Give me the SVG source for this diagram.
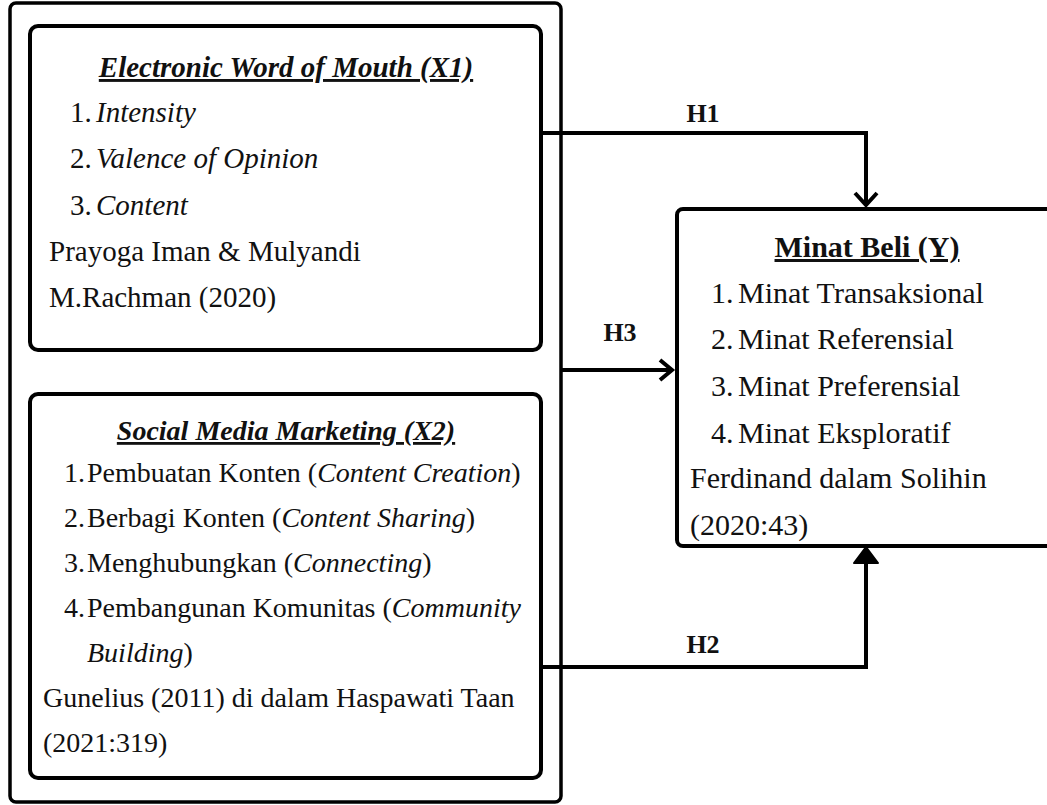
<svg xmlns="http://www.w3.org/2000/svg" width="1047" height="805" viewBox="0 0 1047 805">
<style>
text{font-family:"Liberation Serif","Times New Roman",serif;font-size:28px;fill:#111}
.b1 text{font-size:29px}
.b3 text{font-size:30px}
.t{font-weight:bold;text-decoration:underline}
.i{font-style:italic}
.h{font-weight:bold;font-size:26px}
.box{fill:#fff;stroke:#000;stroke-width:4}
.ln{fill:none;stroke:#000;stroke-width:4;stroke-linejoin:miter}
</style>
<rect x="0" y="0" width="1047" height="805" fill="#fff"/>
<g id="outer">
<rect x="10" y="3" width="551" height="799" rx="6" fill="#fff" stroke="#000" stroke-width="3.5"/>
</g>
<g id="connectors">
<path class="ln" d="M541,133 H866 V203"/>
<path class="ln" d="M855,193 L866,205 L877,193"/>
<path class="ln" d="M561,370 H670"/>
<path class="ln" d="M660,360 L672,370 L660,380"/>
<path class="ln" d="M541,667 H866 V560"/>
<path d="M866,547 L854,563 L878,563 Z" fill="#000" stroke="#000" stroke-width="2" stroke-linejoin="round"/>
<text class="h" x="703" y="122" text-anchor="middle">H1</text>
<text class="h" x="620" y="341" text-anchor="middle">H3</text>
<text class="h" x="703" y="653" text-anchor="middle">H2</text>
</g>
<g id="x1" class="b1">
<rect class="box" x="30" y="26" width="511" height="324" rx="8"/>
<text class="t i" x="286" y="77" text-anchor="middle">Electronic Word of Mouth (X1)</text>
<text x="70" y="122">1.<tspan class="i" x="96">Intensity</tspan></text>
<text x="70" y="168">2.<tspan class="i" x="96">Valence of Opinion</tspan></text>
<text x="70" y="215">3.<tspan class="i" x="96">Content</tspan></text>
<text x="49" y="261">Prayoga Iman &amp; Mulyandi</text>
<text x="49" y="307">M.Rachman (2020)</text>
</g>
<g id="x2">
<rect class="box" x="30" y="394" width="511" height="384" rx="8"/>
<text class="t i" x="286" y="440" text-anchor="middle">Social Media Marketing (X2)</text>
<text x="64" y="482">1.<tspan x="87">Pembuatan Konten (</tspan><tspan class="i">Content Creation</tspan>)</text>
<text x="64" y="527">2.<tspan x="87">Berbagi Konten (</tspan><tspan class="i">Content Sharing</tspan>)</text>
<text x="64" y="572">3.<tspan x="87">Menghubungkan (</tspan><tspan class="i">Connecting</tspan>)</text>
<text x="64" y="617">4.<tspan x="87">Pembangunan Komunitas (</tspan><tspan class="i">Community</tspan></text>
<text x="87" y="662"><tspan class="i">Building</tspan>)</text>
<text x="43" y="707">Gunelius (2011) di dalam Haspawati Taan</text>
<text x="43" y="752">(2021:319)</text>
</g>
<g id="y" class="b3">
<rect class="box" x="677" y="209" width="390" height="337" rx="6"/>
<text class="t" x="867" y="257" text-anchor="middle">Minat Beli (Y)</text>
<text x="711" y="303">1.<tspan x="738">Minat Transaksional</tspan></text>
<text x="711" y="349">2.<tspan x="738">Minat Referensial</tspan></text>
<text x="711" y="396">3.<tspan x="738">Minat Preferensial</tspan></text>
<text x="711" y="443">4.<tspan x="738">Minat Eksploratif</tspan></text>
<text x="690" y="488">Ferdinand dalam Solihin</text>
<text x="690" y="535">(2020:43)</text>
</g>
</svg>
